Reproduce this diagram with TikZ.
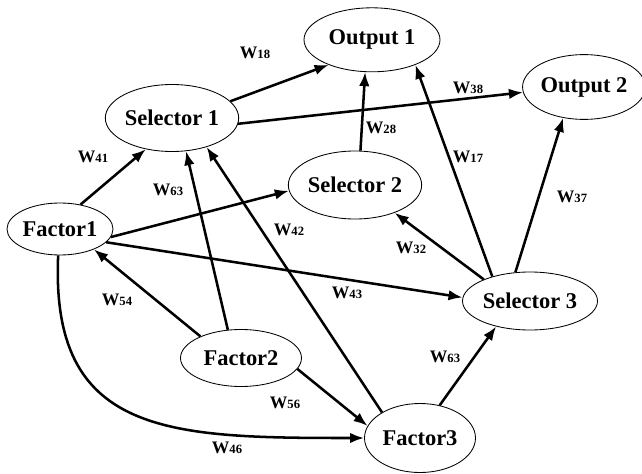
\documentclass[tikz,border=0pt]{standalone}
\usepackage{fontspec}
\setmainfont{Liberation Serif}
\usetikzlibrary{shapes.geometric,arrows.meta}
\tikzset{
  unit/.style={ellipse,draw,line width=0.6pt,inner sep=0pt,font=\fontsize{16}{18}\selectfont\bfseries},
  link/.style={line width=1.8pt,-{Latex[length=10pt,width=7.5pt]}},
  wlab/.style={inner sep=0pt,font=\bfseries}
}
\newcommand{\wt}[1]{{\fontsize{12.5}{14}\selectfont W}{\fontsize{9}{11}\selectfont #1}}

\begin{document}
\begin{tikzpicture}
   \useasboundingbox (0,0) rectangle (16.05,11.825);
   % units
   \node[unit,minimum width=3.4cm,minimum height=1.6cm]    (out1) at (9.3,10.83)   {Output 1};
   \node[unit,minimum width=2.85cm,minimum height=1.62cm]  (out2) at (14.6,9.65)   {Output 2};
   \node[unit,minimum width=3.05cm,minimum height=1.675cm] (sel1) at (4.3,8.875)   {Selector 1};
   \node[unit,minimum width=3.1cm,minimum height=1.7cm]    (sel2) at (8.875,7.2)   {Selector 2};
   \node[unit,minimum width=2.65cm,minimum height=1.3cm]   (f1)   at (1.5,6.1)     {Factor1};
   \node[unit,minimum width=3.375cm,minimum height=1.45cm] (sel3) at (13.25,4.3)   {Selector 3};
   \node[unit,minimum width=3.025cm,minimum height=1.425cm](f2)   at (6.025,2.875) {Factor2};
   \node[unit,minimum width=2.775cm,minimum height=1.725cm](f3)   at (10.5,0.875)  {Factor3};
   % connections
   \draw[link] (sel1.16)  -- (out1.210);
   \draw[link] (sel1.355) -- (out2.185);
   \draw[link] (sel2.81)  -- (out1.258);
   \draw[link] (sel3.147) -- (out1.330);
   \draw[link] (sel3.117) -- (out2.236);
   \draw[link] (sel3.155) -- (sel2.325);
   \draw[link] (f1.50)    -- (sel1.230);
   \draw[link] (f1.351)   -- (sel2.185);
   \draw[link] (f1.344)   -- (sel3.177);
   \draw[link] (f2.115)   -- (sel1.293);
   \draw[link] (f3.146)   -- (sel1.320);
   \draw[link] (f2.152)   -- (f1.329);
   \draw[link] (f2.349)   -- (f3.167);
   \draw[link] (f1.266) .. controls +(-0.2,-4.5) and +(-4.9,0) .. (f3.180);
   \draw[link] (f3.59)    -- (sel3.217);
   % weights
   \node[wlab] (w18)  at (6.375,10.5)  {\wt{18}};
   \node[wlab] (w38)  at (11.7,9.625)  {\wt{38}};
   \node[wlab] (w28)  at (9.525,8.625) {\wt{28}};
   \node[wlab] (w17)  at (11.7,7.9)    {\wt{17}};
   \node[wlab] (w37)  at (14.3,6.9)    {\wt{37}};
   \node[wlab] (w32)  at (10.275,5.625){\wt{32}};
   \node[wlab] (w41)  at (2.325,7.9)   {\wt{41}};
   \node[wlab] (w63a) at (4.2,7.075)   {\wt{63}};
   \node[wlab] (w42)  at (7.225,6.075) {\wt{42}};
   \node[wlab] (w43)  at (8.675,4.5)   {\wt{43}};
   \node[wlab] (w54)  at (2.925,4.325) {\wt{54}};
   \node[wlab] (w56)  at (7.125,1.75)  {\wt{56}};
   \node[wlab] (w46)  at (5.675,0.625) {\wt{46}};
   \node[wlab] (w63b) at (11.125,2.9)  {\wt{63}};
\end{tikzpicture}
\end{document}
